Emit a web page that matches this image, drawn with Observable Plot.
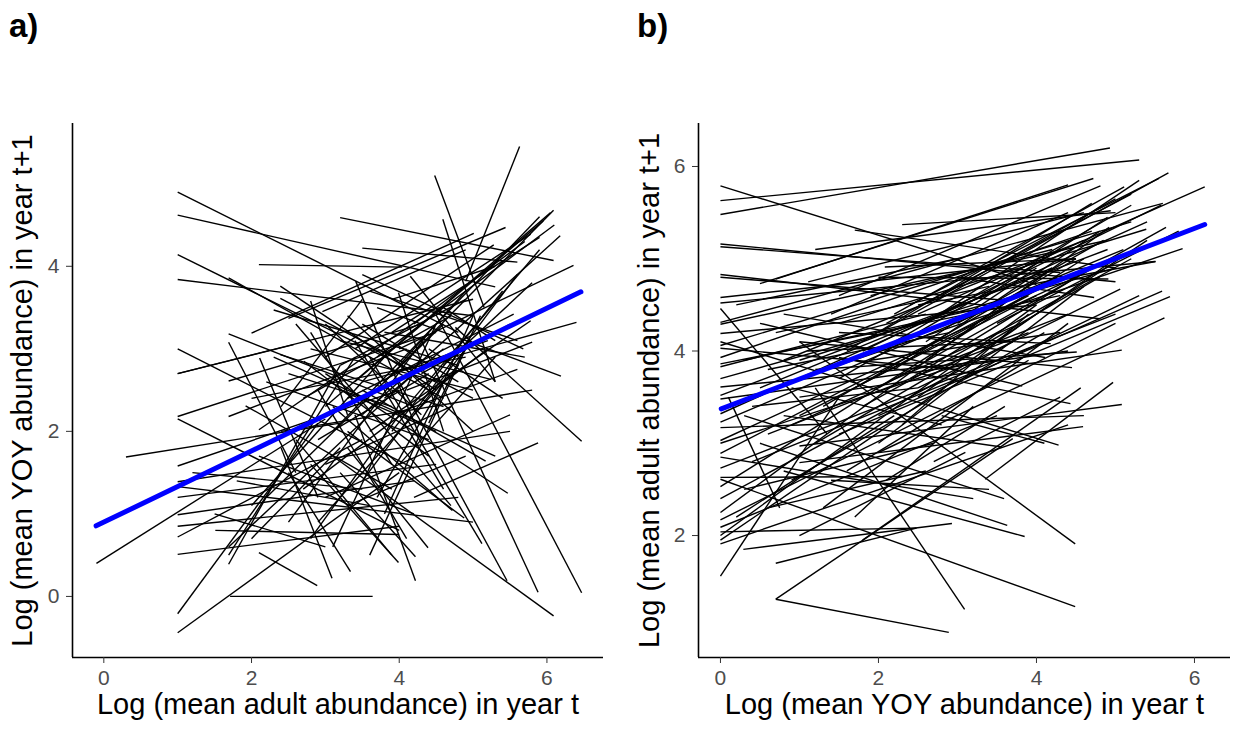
<!DOCTYPE html>
<html>
<head>
<meta charset="utf-8">
<script src="https://cdn.jsdelivr.net/npm/d3@7"></script>
<script src="https://cdn.jsdelivr.net/npm/@observablehq/plot@0.6"></script>
<style>
  html, body { margin: 0; padding: 0; background: #fff; }
  #wrap { position: relative; width: 1233px; height: 732px; overflow: hidden; font-family: "Liberation Sans", Arial, Helvetica, sans-serif; }
  .tag { position: absolute; z-index: 5; font-weight: bold; font-size: 33px; line-height: 1; color: #000; }
  .pan { position: absolute; top: 0; z-index: 1; }
</style>
</head>
<body>
<div id="wrap">
  <div class="pan" id="pa" style="left:0px;"></div>
  <div class="pan" id="pb" style="left:616px;"></div>
  <div class="tag" style="left:9px; top:9px;">a)</div>
  <div class="tag" style="left:637px; top:9px;">b)</div>
</div>
<script>
// ---------- Panel a data: [x_t, y_t+1, x_t', y_t+1'] segment endpoints ----------
const segmentsA = [
  [1.0,4.90,4.8,3.2],[1.0,4.62,5.3,3.75],[1.0,4.14,4.6,2.55],[1.0,3.84,5.0,3.40],
  [1.0,3.00,4.2,1.55],[1.0,2.70,2.57,3.05],[1.0,2.70,5.0,3.60],[1.0,2.18,4.5,3.20],
  [1.0,2.15,4.0,0.80],[1.0,1.58,4.0,2.50],[1.0,1.39,5.5,2.00],[1.0,1.33,5.0,0.90],
  [1.0,1.20,4.5,1.60],[1.0,0.99,4.2,1.40],[1.0,0.85,4.8,1.20],[1.0,0.72,3.5,1.90],
  [1.0,0.51,4.0,0.85],[1.0,-0.21,2.9,2.10],[1.0,-0.44,4.0,1.50],[-0.1,0.40,3.0,2.15],
  [0.3,1.69,3.2,2.10],[1.71,0.0,3.64,0.0],[2.1,0.53,2.89,0.13],[2.1,4.02,4.04,3.99],
  [1.69,3.86,4.6,2.4],[2.39,3.76,4.5,2.5],[2.39,3.61,5.0,2.4],[2.30,3.47,4.8,2.8],
  [2.80,3.58,3.3,2.2],[1.69,3.18,4.2,2.3],[1.69,3.08,2.6,1.5],[2.11,2.89,2.9,1.2],
  [2.39,2.93,4.6,2.3],[2.71,2.85,4.4,1.7],[1.69,2.61,4.3,3.3],[1.69,2.18,4.1,3.0],
  [2.10,2.02,4.5,3.5],[1.51,0.80,4.0,0.75],[1.69,0.60,4.2,2.7],[1.69,0.39,3.2,2.8],
  [1.69,0.50,3.4,2.9],[1.92,2.31,3.9,1.3],[2.96,3.45,4.9,4.2],[2.80,3.20,3.9,1.6],
  [3.2,4.59,6.09,4.07],[3.5,4.22,5.6,4.05],[4.48,5.10,5.15,3.50],[4.90,3.82,5.63,5.45],
  [3.8,2.6,6.09,4.68],[3.5,2.2,6.18,4.37],[3.0,2.3,6.05,4.65],[4.0,3.0,6.36,4.01],
  [3.5,2.6,6.40,3.32],[3.7,3.5,6.19,2.67],[4.76,3.26,6.47,1.88],[4.5,3.41,6.47,0.045],
  [4.3,3.1,5.88,0.05],[3.07,1.72,6.09,-0.235],[4.0,2.6,5.46,0.19],[4.2,1.2,5.88,1.86],
  [3.0,2.7,5.47,1.25],[3.5,2.5,5.17,1.64],[3.6,2.9,5.12,0.64],[3.3,2.0,4.88,0.95],
  [3.1,2.3,4.72,1.04],[3.3,1.8,4.39,0.59],[3.4,2.2,4.22,0.19],[3.2,1.5,4.22,0.48],
  [2.8,1.6,3.99,0.41],[2.5,1.5,3.34,0.30],[2.4,1.8,3.09,0.22],[2.0,3.19,5.01,4.40],
  [2.5,3.37,5.44,4.47],[3.0,2.9,5.28,4.26],[3.4,3.0,5.78,4.39],[3.9,3.2,5.9,4.35],
  [3.6,2.0,5.78,3.34],[3.3,2.4,5.55,3.42],[3.5,3.9,5.68,3.0],[4.1,2.5,5.80,3.08],
  [3.2,3.1,5.24,2.63],[3.9,2.2,5.6,2.75],[4.59,4.57,5.3,2.6],[3.41,3.82,4.3,1.9],
  [4.15,3.88,5.3,2.6],[3.99,3.68,4.6,2.0],[2.2,1.2,4.6,3.3],[2.0,2.4,4.9,2.9],
  [2.5,0.9,4.4,3.2],[2.7,1.3,5.2,3.0],[2.9,0.9,4.8,2.8],[3.1,0.6,4.5,3.3],
  [2.3,2.9,5.3,1.7],[2.6,3.3,4.7,1.1],[3.3,3.4,5.0,2.0],[3.5,1.4,5.6,3.9],
  [3.8,1.0,5.0,3.4],[3.6,0.5,4.9,3.0],[2.4,2.0,5.8,2.5],[2.9,2.5,4.1,0.7],
  [3.4,3.1,4.6,1.3],[2.0,1.1,3.8,2.9],[2.2,2.6,4.4,1.9],[3.0,1.2,5.5,2.2],
  [3.9,2.0,5.4,3.7],[4.1,2.3,5.9,4.2],[3.8,3.2,5.7,2.9],[3.2,2.8,4.9,3.6],
  [4.3,2.7,5.5,3.3],[2.8,3.0,5.0,2.5],[3.6,3.7,5.6,3.1],[4.0,1.6,5.3,2.9],
  [1.8,1.4,3.6,1.1],[2.0,0.7,3.2,1.8],[2.6,1.9,3.9,0.5],[3.7,1.2,4.6,2.6],
  [1.5,1.0,3.0,0.6],[1.2,1.5,3.5,1.3],[2.1,1.7,4.2,1.0],[2.8,0.7,4.0,2.2],
  [3.0,3.3,4.3,2.2],[4.4,2.1,5.1,3.4],[4.6,2.8,5.8,3.8],[3.9,2.7,5.2,3.1],
  [2.4,2.3,3.5,3.6],[3.3,1.1,4.9,1.7],
  [3.1,2.0,5.9,4.6],[3.4,2.6,5.95,4.55],[3.7,2.9,6.1,4.5],[4.2,3.3,5.7,4.3],
  [3.9,3.6,5.3,4.0],[4.0,2.8,4.9,3.7],[4.4,3.0,5.4,2.4],[2.7,2.4,4.7,3.4],
  [3.5,3.3,4.8,2.6],[4.2,2.2,4.9,3.0],[3.8,2.4,4.6,3.0],[2.9,1.9,4.4,2.7],
  [3.2,2.5,4.5,2.0],[4.6,3.5,5.3,3.1],[2.5,2.7,3.9,2.3],[3.0,1.6,4.7,2.3]
];
const regressionAx = [-0.104, 6.46];
const regressionAy = [0.855, 3.69];
const xTicksA = [0, 2, 4, 6];
const yTicksA = [0, 2, 4];
const xDomainA = [-0.424, 6.766];
const yDomainA = [-0.74, 5.73];
const xLabelA = "Log (mean adult abundance) in year t";
const yLabelA = "Log (mean YOY abundance) in year t+1";

// ---------- Panel b data ----------
const segmentsB = [
  [0,5.79,4.0,4.72],[0,5.63,5.30,6.07],[0,5.48,4.93,6.20],[0,5.16,5.0,4.75],
  [0,5.13,4.3,4.85],[0,4.83,4.8,4.35],[0,4.80,3.6,4.55],[0,4.58,4.5,5.0],
  [0,4.52,5.5,4.97],[0,4.46,1.35,3.1],[0,4.31,5.6,5.6],[0,4.29,4.9,5.2],
  [0,4.19,4.0,4.5],[0,4.06,5.2,5.4],[0,4.03,3.0,3.8],[0,3.93,4.7,5.3],
  [0,3.86,4.3,4.6],[0,3.83,2.6,4.4],[0,3.70,5.0,4.9],[0,3.61,3.5,3.9],
  [0,3.52,4.9,5.1],[0,3.48,4.4,4.0],[0,3.32,5.4,5.4],[0,3.23,3.8,4.6],
  [0,3.17,4.6,3.3],[0,3.03,4.5,4.8],[0,3.00,3.2,3.9],[0,2.89,4.1,4.7],
  [0,2.85,3.2,2.4],[0,2.73,5.0,4.4],[0,2.63,2.30,2.64],[0,2.53,4.6,5.0],
  [0,2.40,3.7,4.1],[0,2.25,4.2,4.9],[0,2.17,5.0,4.3],[0,2.09,3.5,3.3],
  [0,2.04,2.48,2.08],[0,2.00,4.0,4.5],[0,1.95,3.0,3.7],[0,1.91,4.4,3.2],
  [0,1.56,1.5,3.5],[0.1,3.5,0.75,2.3],[1.2,3.6,3.09,1.20],
  [0.70,4.78,4.4,5.8],[1.11,4.75,4.6,5.5],[1.70,5.31,5.0,4.9],[2.30,5.37,5.0,5.5],
  [2.08,4.91,4.5,5.0],[0.29,1.85,2.93,2.13],[0.70,1.70,2.48,2.08],[0.70,1.31,2.89,0.95],
  [0.70,1.31,3.7,3.05],[0.5,4.73,4.72,5.87],[1.5,4.6,4.81,5.79],[2.0,4.2,5.67,5.93],
  [2.4,4.5,5.55,5.87],[2.5,4.4,6.13,5.78],[2.2,4.4,5.11,5.78],[1.2,5.1,4.94,5.52],
  [2.6,4.3,5.30,5.85],[2.2,4.1,5.20,5.58],[1.8,4.0,5.58,5.58],[1.5,4.3,5.39,5.32],
  [2.0,3.6,5.64,5.34],[1.0,3.7,5.85,5.11],[2.5,4.5,5.51,4.97],[2.0,4.8,4.91,4.78],
  [3.0,4.8,4.73,4.58],[2.0,3.3,5.59,4.65],[1.5,3.1,5.69,4.59],[2.5,3.6,5.06,4.67],
  [2.0,2.9,5.62,4.36],[1.0,3.5,5.08,4.01],[1.0,4.1,4.45,3.82],[3.35,2.61,4.97,3.66],
  [1.8,1.95,4.56,3.60],[1.0,2.97,5.08,3.42],[1.0,2.79,4.59,3.18],[0,4.1,4.28,2.98],
  [1.5,3.93,4.43,3.43],[0.5,4.3,3.82,3.62],[0.8,3.3,3.56,2.96],[0.3,3.3,3.59,2.40],
  [0.5,3.0,3.63,2.11],[0.8,2.7,3.85,1.99],[1.0,4.1,4.49,1.91],[0,2.61,4.49,1.23],
  [0.5,3.6,4.2,4.9],[0.8,3.9,4.6,5.2],[1.0,3.3,4.0,4.6],[1.2,3.0,4.8,4.8],
  [0.3,3.9,3.5,4.5],[1.5,3.7,4.3,5.1],[0.6,3.1,3.9,4.2],[1.8,3.4,5.2,5.0],
  [0.9,2.6,4.1,4.2],[1.3,2.3,4.4,4.3],[2.0,3.0,4.6,4.7],[0.4,2.8,3.3,3.8],
  [1.6,2.7,3.9,3.9],[2.2,3.8,4.8,5.3],[0.7,4.2,3.4,4.7],[1.1,4.0,3.7,4.1],
  [2.5,3.5,5.0,5.0],[0.2,4.5,3.0,5.0],[1.4,4.4,4.4,5.5],[0.9,3.6,2.8,3.2],
  [2.8,3.3,4.1,3.0],[0.3,2.5,2.7,3.0],[1.7,2.2,3.2,3.4],[0.6,2.3,2.6,2.7],
  [2.1,2.6,3.6,3.4],[1.0,2.0,3.1,2.9],[1.5,4.2,4.18,4.08],[1.2,3.8,4.51,3.99],
  [0.8,4.4,4.11,3.93],[2.6,3.9,4.92,5.34],[3.0,4.3,4.85,5.2],[1.9,4.6,4.2,5.1],
  [0.4,3.4,2.5,3.6],[2.3,3.2,3.9,4.4],[3.1,3.7,5.3,4.6],[0.2,2.2,2.2,3.3],
  [1.4,2.6,3.4,2.5],[2.7,2.8,4.3,3.5],
  [1.6,4.0,4.7,5.6],[2.1,4.3,5.2,5.7],[2.8,4.6,5.0,5.65],[3.2,4.5,4.9,5.45],
  [1.3,3.4,4.5,5.0],[2.4,3.7,4.7,4.9],[3.3,4.0,5.4,5.2],[0.9,3.2,3.8,4.3],
  [1.7,3.6,3.9,4.6],[2.9,3.9,4.4,4.4],[1.0,3.9,3.2,4.5],[2.6,4.1,4.0,4.9],
  [0.6,3.8,2.9,4.2],[3.5,4.3,5.8,5.3],[1.9,3.9,4.3,4.2],[3.7,4.6,5.1,5.1]
];
const regressionBx = [0.01, 6.13];
const regressionBy = [3.373, 5.371];
const xTicksB = [0, 2, 4, 6];
const yTicksB = [2, 4, 6];
const xDomainB = [-0.278, 6.456];
const yDomainB = [0.678, 6.466];
const xLabelB = "Log (mean YOY abundance) in year t";
const yLabelB = "Log (mean adult abundance) in year t+1";

function panel({segs, regX, regY, xDom, yDom, xTicks, yTicks, xLabel, yLabel, width, ml, mr, ytdx}) {
  const reg = regX.map((x, i) => ({x, y: regY[i]}));
  return Plot.plot({
    width, height: 732,
    marginLeft: ml, marginRight: mr, marginTop: 123, marginBottom: 75,
    x: {domain: xDom},
    y: {domain: yDom},
    style: {fontFamily: '"Liberation Sans", Arial, Helvetica, sans-serif', fontSize: "21px", background: "white", overflow: "visible"},
    marks: [
      Plot.link(segs, {x1: d => d[0], y1: d => d[1], x2: d => d[2], y2: d => d[3], stroke: "black", strokeWidth: 1.4}),
      Plot.line(reg, {x: "x", y: "y", stroke: "#0000ff", strokeWidth: 5}),
      Plot.ruleX([xDom[0]], {stroke: "black", strokeWidth: 1.6}),
      Plot.ruleY([yDom[0]], {stroke: "black", strokeWidth: 1.6}),
      Plot.axisX(xTicks, {tickSize: 6, tickPadding: 7, fontSize: 21, fill: "#4d4d4d", stroke: "#333", tickFormat: d => String(d), label: null}),
      Plot.axisY(yTicks, {tickSize: 6, tickPadding: 7, fontSize: 21, fill: "#4d4d4d", stroke: "#333", tickFormat: d => String(d), label: null}),
      Plot.text([xLabel], {frameAnchor: "bottom", dy: 56, fontSize: 29, fill: "black", textAnchor: "middle"}),
      Plot.text([yLabel], {frameAnchor: "left", dx: ytdx, rotate: -90, fontSize: 29, fill: "black", textAnchor: "middle"})
    ]
  });
}

document.getElementById("pa").append(panel({
  segs: segmentsA, regX: regressionAx, regY: regressionAy, xDom: xDomainA, yDom: yDomainA,
  xTicks: xTicksA, yTicks: yTicksA, xLabel: xLabelA, yLabel: yLabelA,
  width: 616, ml: 72, mr: 13, ytdx: -50
}));
document.getElementById("pb").append(panel({
  segs: segmentsB, regX: regressionBx, regY: regressionBy, xDom: xDomainB, yDom: yDomainB,
  xTicks: xTicksB, yTicks: yTicksB, xLabel: xLabelB, yLabel: yLabelB,
  width: 617, ml: 82, mr: 3, ytdx: -49
}));
</script>
</body>
</html>
